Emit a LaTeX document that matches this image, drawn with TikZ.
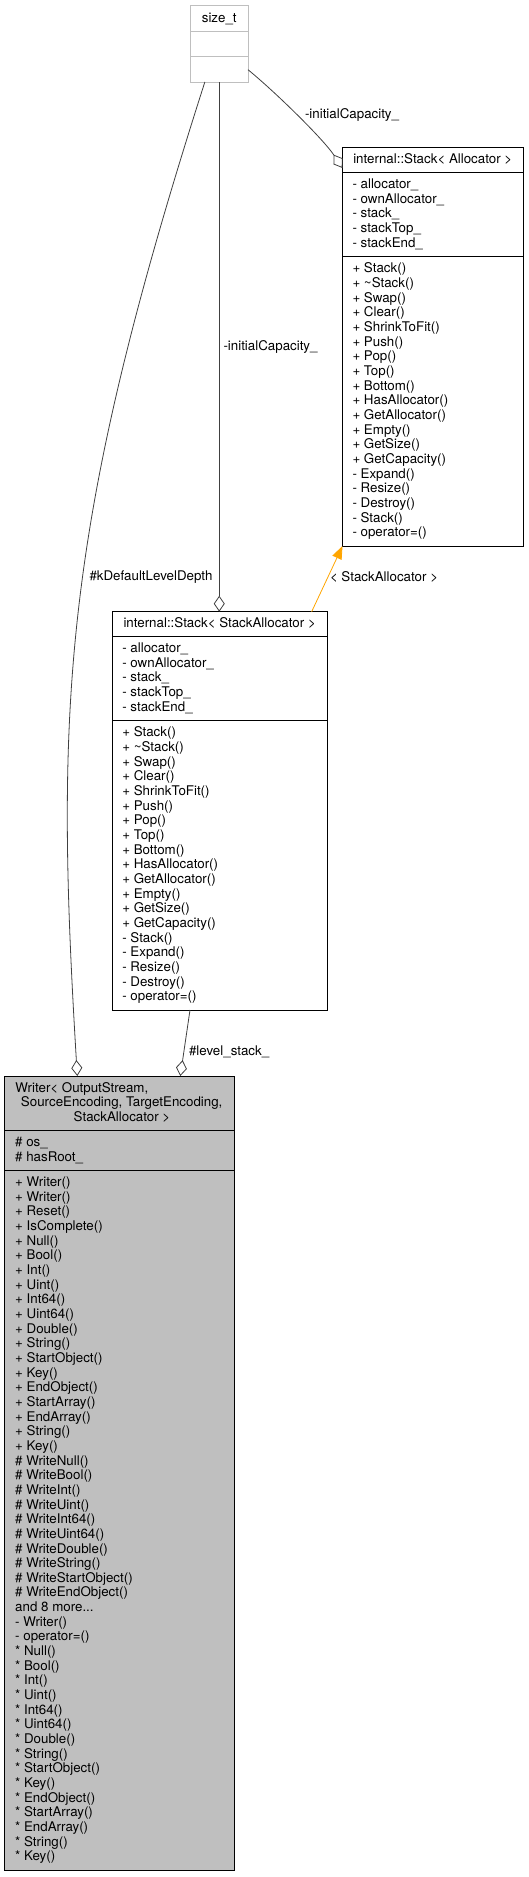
\documentclass[tikz,border=0pt]{standalone}
\usepackage{fontspec}
\setmainfont{TeX Gyre Heros}
\usetikzlibrary{arrows.meta,calc}
\definecolor{boxgray}{HTML}{BFBFBF}
\definecolor{edgegray}{HTML}{404040}
\definecolor{tmplorange}{HTML}{FFA500}
\newcommand{\ls}{\rule[-3.82pt]{0pt}{14.66pt}}
\begin{document}
\begin{tikzpicture}[x=1pt,y=-1pt,
  cls/.style={draw=black, line width=1pt, rectangle, inner sep=0pt, outer sep=0pt, anchor=north west},
  txt/.style={inner sep=0pt, outer sep=0pt, font=\fontsize{13.33}{14.66}\selectfont, align=left, anchor=west},
  htxt/.style={inner sep=0pt, outer sep=0pt, font=\fontsize{13.33}{14.66}\selectfont, anchor=center},
  lbl/.style={inner sep=0pt, outer sep=0pt, font=\fontsize{13.33}{14.66}\selectfont, anchor=west},
  sepline/.style={line width=1pt},
  agg/.style={draw=edgegray, line width=0.8pt, -{Diamond[open, length=16pt, width=11pt, line width=0.8pt]}},
  inst/.style={draw=tmplorange, line width=0.8pt, -{Triangle[length=13pt, width=10pt, fill=tmplorange]}},
]
\useasboundingbox (0,0) rectangle (529,1877);

% size_t
\node[cls, draw=boxgray, fill=white, minimum width=57.5pt, minimum height=76.3pt] (sizet) at (190.5,5.7) {};
\draw[sepline, boxgray] (190.5,31.3) -- (248,31.3);
\draw[sepline, boxgray] (190.5,56.7) -- (248,56.7);
\node[htxt] (sizet-h) at (219.25,18.5) {\ls size\_t};

% internal::Stack< Allocator >
\node[cls, fill=white, minimum width=180.5pt, minimum height=398.3pt] (sa) at (342.5,147.7) {};
\draw[sepline] (342.5,172.1) -- (523,172.1);
\draw[sepline] (342.5,256.8) -- (523,256.8);
\node[htxt] (sa-h) at (432.75,160) {\ls internal::Stack< Allocator >};
\node[txt] (sa-a) at (352.5,214.45) {\ls - allocator\_\\\ls - ownAllocator\_\\\ls - stack\_\\\ls - stackTop\_\\\ls - stackEnd\_};
\node[txt] (sa-m) at (352.5,401.4) {\ls + Stack()\\\ls + \textasciitilde Stack()\\\ls + Swap()\\\ls + Clear()\\\ls + ShrinkToFit()\\\ls + Push()\\\ls + Pop()\\\ls + Top()\\\ls + Bottom()\\\ls + HasAllocator()\\\ls + GetAllocator()\\\ls + Empty()\\\ls + GetSize()\\\ls + GetCapacity()\\\ls - Expand()\\\ls - Resize()\\\ls - Destroy()\\\ls - Stack()\\\ls - operator=()};

% internal::Stack< StackAllocator >
\node[cls, fill=white, minimum width=214.7pt, minimum height=398.3pt] (ssa) at (112.3,611.7) {};
\draw[sepline] (112.3,636.1) -- (327,636.1);
\draw[sepline] (112.3,720.8) -- (327,720.8);
\node[htxt] (ssa-h) at (219.65,623.9) {\ls internal::Stack< StackAllocator >};
\node[txt] (ssa-a) at (122.3,678.45) {\ls - allocator\_\\\ls - ownAllocator\_\\\ls - stack\_\\\ls - stackTop\_\\\ls - stackEnd\_};
\node[txt] (ssa-m) at (122.3,865.4) {\ls + Stack()\\\ls + \textasciitilde Stack()\\\ls + Swap()\\\ls + Clear()\\\ls + ShrinkToFit()\\\ls + Push()\\\ls + Pop()\\\ls + Top()\\\ls + Bottom()\\\ls + HasAllocator()\\\ls + GetAllocator()\\\ls + Empty()\\\ls + GetSize()\\\ls + GetCapacity()\\\ls - Stack()\\\ls - Expand()\\\ls - Resize()\\\ls - Destroy()\\\ls - operator=()};

% Writer
\node[cls, fill=boxgray, minimum width=229.8pt, minimum height=794pt] (writer) at (4.7,1076) {};
\draw[sepline] (4.7,1130.7) -- (234.5,1130.7);
\draw[sepline] (4.7,1170.3) -- (234.5,1170.3);
\node[htxt, anchor=west] (writer-h1) at (15.5,1088.7) {\ls Writer< OutputStream,};
\node[htxt] (writer-h2) at (121.7,1103.3) {\ls SourceEncoding, TargetEncoding,};
\node[htxt] (writer-h3) at (122,1118) {\ls StackAllocator >};
\node[txt] (writer-a) at (15.2,1150.5) {\ls \# os\_\\\ls \# hasRoot\_};
\node[txt] (writer-m) at (15.2,1520.15) {\ls + Writer()\\\ls + Writer()\\\ls + Reset()\\\ls + IsComplete()\\\ls + Null()\\\ls + Bool()\\\ls + Int()\\\ls + Uint()\\\ls + Int64()\\\ls + Uint64()\\\ls + Double()\\\ls + String()\\\ls + StartObject()\\\ls + Key()\\\ls + EndObject()\\\ls + StartArray()\\\ls + EndArray()\\\ls + String()\\\ls + Key()\\\ls \# WriteNull()\\\ls \# WriteBool()\\\ls \# WriteInt()\\\ls \# WriteUint()\\\ls \# WriteInt64()\\\ls \# WriteUint64()\\\ls \# WriteDouble()\\\ls \# WriteString()\\\ls \# WriteStartObject()\\\ls \# WriteEndObject()\\\ls and 8 more...\\\ls - Writer()\\\ls - operator=()\\\ls * Null()\\\ls * Bool()\\\ls * Int()\\\ls * Uint()\\\ls * Int64()\\\ls * Uint64()\\\ls * Double()\\\ls * String()\\\ls * StartObject()\\\ls * Key()\\\ls * EndObject()\\\ls * StartArray()\\\ls * EndArray()\\\ls * String()\\\ls * Key()};

% connectors
\draw[agg] ([xshift=-14.4pt]sizet.south) .. controls (61.4,529.4) and (55.1,706) .. ([xshift=-42.3pt]writer.north);
\draw[agg] (sizet.south) -- (sizet.south |- ssa.north);
\draw[agg] ([yshift=12.3pt]sizet.south east) .. controls (275.3,92) and (323.2,139) .. ([yshift=-20.3pt]sa.north west);
\draw[inst] ([xshift=92pt]ssa.north) -- (sa.south west);
\draw[agg] ([xshift=-29.65pt]ssa.south) -- ([xshift=60.7pt]writer.north);

% labels
\node[lbl] (l-kdef) at (89.5,577) {\ls \#kDefaultLevelDepth};
\node[lbl] (l-init1) at (223.5,347) {\ls -initialCapacity\_};
\node[lbl] (l-init2) at (305,115) {\ls -initialCapacity\_};
\node[lbl] (l-tmpl) at (330,577.7) {\ls < StackAllocator >};
\node[lbl] (l-lvl) at (189,1051.7) {\ls \#level\_stack\_};
\end{tikzpicture}
\end{document}
